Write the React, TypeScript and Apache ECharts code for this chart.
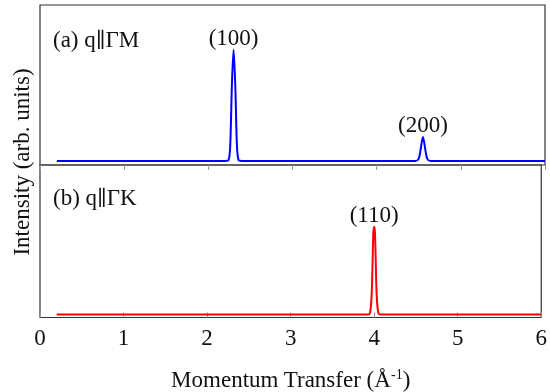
import React, { useEffect, useRef } from "react";
import * as echarts from "echarts";

const xTicks = [0, 1, 2, 3, 4, 5, 6];

// Panel (a): q || ΓM (x, intensity)
const gmX = [0.2, 2.2, 2.24, 2.26, 2.28, 2.3, 2.32, 2.34, 2.36, 2.4, 4.46, 4.5, 4.52, 4.55, 4.58, 4.6, 4.64, 6.0];
const gmY = [0.025, 0.025, 0.03, 0.12, 0.5, 0.72, 0.5, 0.12, 0.03, 0.025, 0.025, 0.04, 0.09, 0.175, 0.09, 0.04, 0.025, 0.025];

// Panel (b): q || ΓK
const gkX = [0.2, 3.92, 3.95, 3.97, 3.99, 4.0, 4.01, 4.03, 4.05, 4.08, 6.0];
const gkY = [0.019, 0.019, 0.03, 0.15, 0.55, 0.595, 0.55, 0.15, 0.03, 0.019, 0.019];

const peakLabelsA = [
  { x: 2.3, y: 0.72, text: "(100)" },
  { x: 4.55, y: 0.175, text: "(200)" },
];
const peakLabelsB = [{ x: 4.0, y: 0.595, text: "(110)" }];

const FONT = "Liberation Serif";
const FS = 23;

export default function App() {
  const ref = useRef<HTMLDivElement>(null);
  useEffect(() => {
    if (!ref.current) return;
    const chart = echarts.init(ref.current, null, { renderer: "svg" });
    const zip = (xs: number[], ys: number[]) => xs.map((x, i) => [x, ys[i]]);
    const mk = (labels: { x: number; y: number; text: string }[]) => ({
      symbol: "circle",
      symbolSize: 0,
      data: labels.map((l) => ({
        coord: [l.x, l.y],
        label: {
          show: true,
          formatter: l.text,
          position: "top",
          distance: 1,
          color: "#111",
          fontFamily: FONT,
          fontSize: FS,
        },
      })),
    });
    const axisCommon = {
      type: "value" as const,
      min: 0,
      max: 6,
      interval: 1,
      splitLine: { show: false },
      axisLine: { show: false },
      axisTick: { show: true, inside: true, length: 5, lineStyle: { color: "#999", width: 1 } },
    };
    const rich = {
      t: { fontFamily: FONT, fontSize: FS, color: "#111" },
      p: { fontFamily: "DejaVu Serif", fontSize: FS - 2, color: "#111" },
    };
    chart.setOption({
      animation: false,
      grid: [
        { left: 40, right: 5, top: 5, height: 160, show: true, borderColor: "#333", borderWidth: 1.2, backgroundColor: "transparent" },
        { left: 40, right: 5, top: 165, height: 158, show: true, borderColor: "#333", borderWidth: 1.2, backgroundColor: "transparent" },
      ],
      xAxis: [
        { ...axisCommon, gridIndex: 0, position: "top", axisLabel: { show: false } },
        {
          ...axisCommon,
          gridIndex: 1,
          position: "bottom",
          axisLabel: {
            show: true,
            showMaxLabel: true,
            color: "#111",
            fontFamily: FONT,
            fontSize: FS,
            margin: 8,
            formatter: (v: number) => (xTicks.includes(v) ? String(v) : ""),
          },
          name: "{a|Momentum Transfer (Å}{s|-1}{a|)}",
          nameLocation: "middle",
          nameGap: 50,
          nameTextStyle: {
            rich: {
              a: { fontFamily: FONT, fontSize: FS, color: "#111" },
              s: { fontFamily: FONT, fontSize: 14, color: "#111", verticalAlign: "top", padding: [0, 0, 10, 0] },
            },
          },
        },
      ],
      yAxis: [
        { type: "value", gridIndex: 0, min: 0, max: 1, show: false },
        { type: "value", gridIndex: 1, min: 0, max: 1, show: false },
      ],
      series: [
        {
          type: "line",
          xAxisIndex: 0,
          yAxisIndex: 0,
          data: zip(gmX, gmY),
          showSymbol: false,
          smooth: 0.3,
          lineStyle: { color: "#0000ff", width: 2 },
          markPoint: mk(peakLabelsA),
        },
        {
          type: "line",
          xAxisIndex: 1,
          yAxisIndex: 1,
          data: zip(gkX, gkY),
          showSymbol: false,
          smooth: 0.3,
          lineStyle: { color: "#ff0000", width: 2 },
          markPoint: mk(peakLabelsB),
        },
      ],
      graphic: [
        {
          type: "text",
          left: 53,
          top: 28,
          style: { text: "{t|(a) q}{p|∥}{t|ΓM}", rich, fontFamily: FONT, fontSize: FS, fill: "#111" },
        },
        {
          type: "text",
          left: 53,
          top: 186,
          style: { text: "{t|(b) q}{p|∥}{t|ΓK}", rich, fontFamily: FONT, fontSize: FS, fill: "#111" },
        },
        {
          type: "text",
          x: 21,
          y: 162,
          rotation: Math.PI / 2,
          style: { text: "Intensity (arb. units)", fontFamily: FONT, fontSize: FS, fill: "#111", align: "center", verticalAlign: "middle" },
        },
      ],
    });
    return () => chart.dispose();
  }, []);
  return <div ref={ref} style={{ position: "fixed", left: 0, top: 0, width: 550, height: 392 }} />;
}
